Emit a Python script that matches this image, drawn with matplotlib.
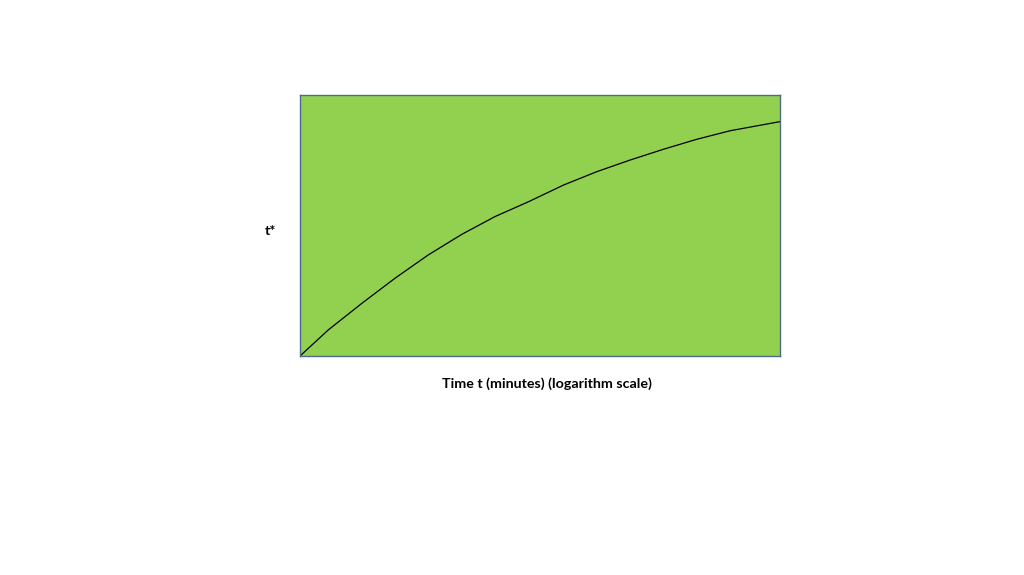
import matplotlib
matplotlib.use("Agg")
import matplotlib.pyplot as plt

# curve, as fractions of the plot box
x_frac = [0.0, 0.059, 0.129, 0.198, 0.267, 0.337, 0.406, 0.476, 0.549,
          0.618, 0.688, 0.757, 0.826, 0.896, 1.0]
y_frac = [0.0, 0.100, 0.202, 0.298, 0.387, 0.466, 0.534, 0.591, 0.655,
          0.706, 0.751, 0.792, 0.830, 0.863, 0.898]

x_label = "Time t (minutes) (logarithm scale)"
y_label = "t*"

plt.rcParams['font.family'] = ['Lato', 'DejaVu Sans']

fig = plt.figure(figsize=(10.24, 5.75), dpi=100)
ax = fig.add_axes([300 / 1024, 1 - 356 / 575, 480 / 1024, 261 / 575])
ax.set_facecolor('#92D050')
ax.plot(x_frac, y_frac, color='black', linewidth=0.9)
ax.set_xlim(0, 1)
ax.set_ylim(0, 1)
ax.set_xticks([])
ax.set_yticks([])
for s in ax.spines.values():
    s.set_color('#4A6B8A')
    s.set_linewidth(1.0)

fig.text(547 / 1024, 1 - 384 / 575, x_label, ha='center', va='center',
         fontsize=10.3, fontweight='bold')
fig.text(270 / 1024, 1 - 231 / 575, y_label, ha='center', va='center',
         fontsize=10.3, fontweight='bold')

fig.savefig("out.png", dpi=100, facecolor='white')
